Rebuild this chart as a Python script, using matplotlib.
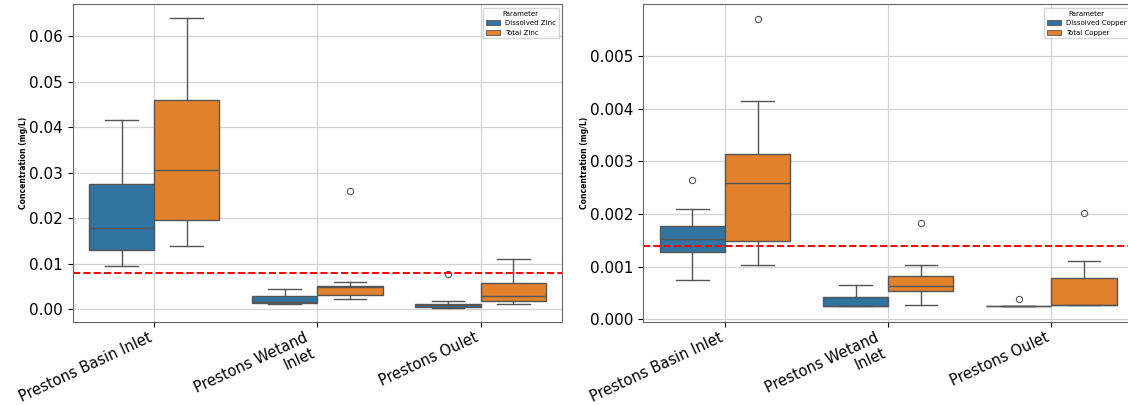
import matplotlib
matplotlib.use("Agg")
import matplotlib.pyplot as plt
from matplotlib.patches import Patch

# Sampling sites
sites = ["Prestons Basin Inlet", "Prestons Wetand\nInlet", "Prestons Oulet"]

# Zinc box statistics per site: [whisker low, Q1, median, Q3, whisker high]
zinc_dissolved = [
    [0.0095, 0.0130, 0.0179, 0.0275, 0.0415],
    [0.0011, 0.0014, 0.0016, 0.0029, 0.0045],
    [0.0003, 0.0004, 0.0009, 0.0012, 0.0018],
]
zinc_dissolved_fliers = [[], [], [0.0077]]
zinc_total = [
    [0.0139, 0.0196, 0.0306, 0.0460, 0.0640],
    [0.0023, 0.0030, 0.0048, 0.0051, 0.0060],
    [0.0010, 0.0018, 0.0029, 0.0057, 0.0110],
]
zinc_total_fliers = [[], [0.0260], []]
zinc_guideline = 0.008

# Copper box statistics per site: [whisker low, Q1, median, Q3, whisker high]
copper_dissolved = [
    [0.00075, 0.00127, 0.00153, 0.00178, 0.00210],
    [0.00025, 0.00025, 0.00025, 0.00043, 0.00066],
    [0.00025, 0.00025, 0.00025, 0.00025, 0.00025],
]
copper_dissolved_fliers = [[0.00265], [], [0.00038]]
copper_total = [
    [0.00103, 0.00149, 0.00258, 0.00313, 0.00415],
    [0.00027, 0.00053, 0.00064, 0.00082, 0.00103],
    [0.00027, 0.00027, 0.00027, 0.00078, 0.00110],
]
copper_total_fliers = [[0.00570], [0.00182], [0.00202]]
copper_guideline = 0.0014

BLUE = "#3274a1"
ORANGE = "#e1812c"
LINE = "#555555"


def make_stats(rows, fliers):
    stats = []
    for (lo, q1, med, q3, hi), fl in zip(rows, fliers):
        stats.append(dict(whislo=lo, q1=q1, med=med, q3=q3, whishi=hi, fliers=fl))
    return stats


def draw_panel(ax, dissolved, dissolved_fl, total, total_fl, guideline, names):
    n = len(sites)
    groups = [(dissolved, dissolved_fl, BLUE, -0.2), (total, total_fl, ORANGE, 0.2)]
    for rows, fl, color, offset in groups:
        ax.bxp(
            make_stats(rows, fl),
            positions=[i + offset for i in range(n)],
            widths=0.4,
            capwidths=0.2,
            patch_artist=True,
            showfliers=True,
            boxprops=dict(facecolor=color, edgecolor=LINE, linewidth=1.0),
            medianprops=dict(color=LINE, linewidth=1.0),
            whiskerprops=dict(color=LINE, linewidth=1.0),
            capprops=dict(color=LINE, linewidth=1.0),
            flierprops=dict(marker="o", markerfacecolor="none",
                            markeredgecolor=LINE, markersize=4.5, markeredgewidth=0.8),
            manage_ticks=False,
        )
    ax.axhline(guideline, color="red", linestyle="--", linewidth=1.4)
    ax.set_xlim(-0.5, n - 0.5)
    ax.set_xticks(range(n))
    ax.set_xticklabels(sites, rotation=25, ha="right", fontsize=10.5)
    ax.tick_params(axis="x", pad=2)
    ax.tick_params(axis="y", labelsize=11)
    ax.set_ylabel("Concentration (mg/L)", fontsize=5.5, fontweight="bold", labelpad=1)
    ax.grid(True, color="#d3d3d3", linewidth=0.9)
    ax.set_axisbelow(True)
    for sp in ax.spines.values():
        sp.set_color("#666666")
    handles = [Patch(facecolor=BLUE, edgecolor=LINE, linewidth=0.6, label=names[0]),
               Patch(facecolor=ORANGE, edgecolor=LINE, linewidth=0.6, label=names[1])]
    ax.legend(handles=handles, title="Parameter", loc="upper right",
              fontsize=5, title_fontsize=5)


fig = plt.figure(figsize=(11.28, 4.05), dpi=100)
ax1 = fig.add_axes([0.0643, 0.2049, 0.4342, 0.7844])
ax2 = fig.add_axes([0.5703, 0.2049, 0.4342, 0.7844])

draw_panel(ax1, zinc_dissolved, zinc_dissolved_fliers, zinc_total, zinc_total_fliers,
           zinc_guideline, ["Dissolved Zinc", "Total Zinc"])
draw_panel(ax2, copper_dissolved, copper_dissolved_fliers, copper_total, copper_total_fliers,
           copper_guideline, ["Dissolved Copper", "Total Copper"])

ax1.set_ylim(-0.00286, 0.06697)
ax2.set_ylim(-0.00005, 0.00598)

fig.savefig("out.png", dpi=100)
